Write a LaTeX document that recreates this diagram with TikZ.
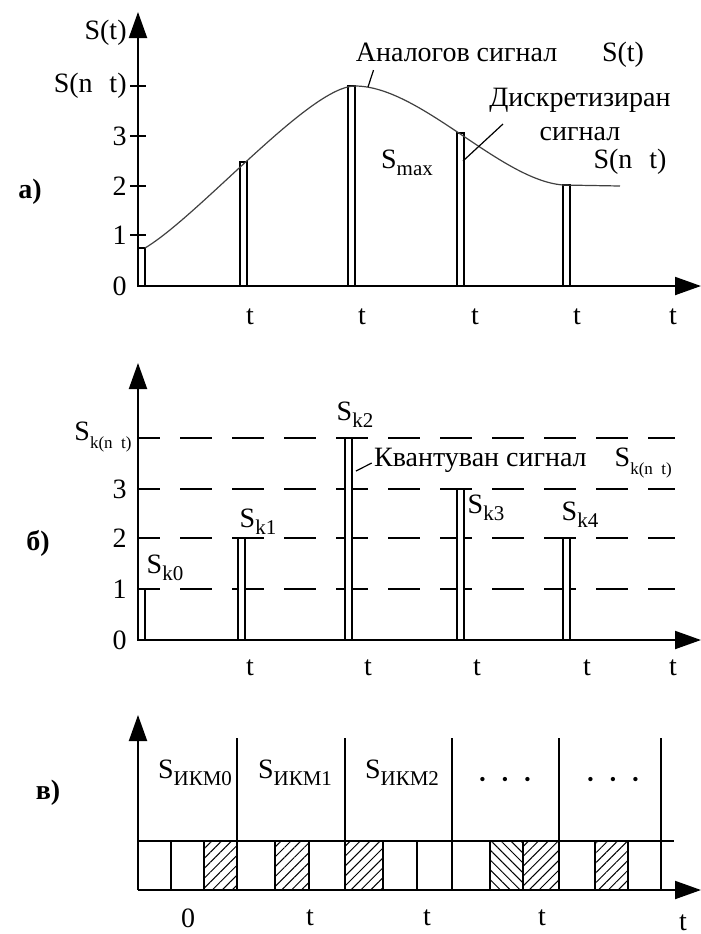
\documentclass[tikz,border=0pt]{standalone}
\usepackage{fontspec}
\setmainfont{Liberation Serif}
\usetikzlibrary{arrows.meta, positioning, patterns.meta}
\newcommand{\lowsub}[1]{\raisebox{-0.55ex}{\fontsize{10.5}{11}\selectfont #1}}
\newcommand{\smallsub}[1]{\raisebox{-0.6ex}{\fontsize{8.5}{9}\selectfont #1}}
\tikzset{
  axis/.style={line width=1pt, -{Triangle[length=13pt, width=9pt]}},
  pulse/.style={draw, line width=0.7pt, fill=white},
  level/.style={line width=0.8pt, dash pattern=on 16pt off 10pt, dash phase=5pt},
  tick/.style={line width=0.9pt},
  lbl/.style={inner sep=1pt, font=\fontsize{14}{17}\selectfont},
  tag/.style={inner sep=1pt, font=\fontsize{14}{17}\selectfont\bfseries},
  curve/.style={line width=0.6pt, black!75},
  leader/.style={line width=0.6pt},
  cell/.style={line width=0.8pt},
  frame/.style={line width=0.8pt},
  hatch/.style={pattern={Lines[angle=45, distance=3.5pt, line width=0.5pt]}},
  backhatch/.style={pattern={Lines[angle=-45, distance=3.5pt, line width=0.5pt]}}
}

\begin{document}
\begin{tikzpicture}[x=0.5pt, y=-0.5pt]
\useasboundingbox (0,0) rectangle (701,934);

% a) analog and sampled signal
\coordinate (oa) at (138,286);
\draw[axis] (oa) -- (138,12);
\draw[axis] (oa) -- (701,286);
\foreach \y in {86,136,186,235} \draw[tick] (130,\y) -- (146,\y);
\node[lbl, anchor=east] (ya-st) at (129,33) {S(t)};
\node[lbl, anchor=east] (ya-snt) at (129,86) {S(n\hspace{0.6em}t)};
\foreach \y/\lab in {136/3, 186/2, 235/1, 286/0}
  \node[lbl, anchor=east] (ya-\lab) at (129,\y) {\lab};
\node[tag] (taga) at (30,192) {а)};

\foreach \x/\h in {138/248, 240/162, 348/86, 457/133, 563/185}
  \draw[pulse] (\x,286) rectangle (\x+7,\h);
\draw[curve] (145,248) .. controls (200,215) and (310,86) .. (355,86)
  .. controls (420,86) and (500,180) .. (563,185) -- (620,186);

\foreach \x in {250,362,475,577,673}
  \node[lbl] (ta-\x) at (\x,317) {t};

\node[lbl] (analog) at (500,55) {Аналогов сигнал\hspace{1.6em}S(t)};
\coordinate (analogpt) at (368,87);
\draw[leader] ([xshift=10pt]analog.south west) -- (analogpt);
\node[lbl, align=center] (diskr) at (580,114) {Дискретизиран\\сигнал};
\coordinate (diskrpt) at (463,161);
\draw[leader] ([xshift=8pt, yshift=-5pt]diskr.west) -- (diskrpt);
\node[lbl] (smax) at (407,163) {S\lowsub{max}};
\node[lbl] (snt) at (630,162) {S(n\hspace{0.6em}t)};

% b) quantized signal
\coordinate (ob) at (138,640);
\foreach \y in {438,489,538,589} \draw[level] (138,\y) -- (675,\y);
\draw[axis] (ob) -- (138,363);
\draw[axis] (ob) -- (701,640);
\node[lbl, anchor=east] (yb-sk) at (134,437) {S\smallsub{k(n\hspace{0.5em}t)}};
\foreach \y/\lab in {489/3, 538/2, 589/1, 640/0}
  \node[lbl, anchor=east] (yb-\lab) at (129,\y) {\lab};
\node[tag] (tagb) at (38,543) {б)};

\foreach \x/\h in {138/589, 238/538, 345/438, 457/489, 563/538}
  \draw[pulse] (\x,640) rectangle (\x+7,\h);
\node[lbl] (sk0) at (165,568) {S\lowsub{k0}};
\node[lbl] (sk1) at (258,522) {S\lowsub{k1}};
\node[lbl] (sk2) at (355,415) {S\lowsub{k2}};
\node[lbl] (sk3) at (486,508) {S\lowsub{k3}};
\node[lbl] (sk4) at (580,515) {S\lowsub{k4}};

\node[lbl] (kvant) at (523,463) {Квантуван сигнал\hspace{1em}S\smallsub{k(n\hspace{0.5em}t)}};
\coordinate (kvantpt) at (356,471);
\draw[leader] (kvant.west) -- (kvantpt);

\foreach \x in {250,368,477,587,673}
  \node[lbl] (tb-\x) at (\x,668) {t};

% c) PCM code words
\coordinate (oc) at (138,890);
\foreach \a/\b in {204/237, 275/309, 345/383, 523/559, 595/628}
  \fill[hatch] (\a,841) rectangle (\b,890);
\fill[backhatch] (490,841) rectangle (523,890);
\draw[axis] (oc) -- (138,715);
\draw[axis] (oc) -- (701,890);
\draw[frame] (138,841) -- (674,841);
\foreach \x in {237,345,452,559,661} \draw[frame] (\x,738) -- (\x,890);
\foreach \x in {171,204,275,309,383,417,490,523,595,628} \draw[cell] (\x,841) -- (\x,890);
\node[tag] (tagc) at (48,793) {в)};

\node[lbl] (pcm0) at (195,773) {S\lowsub{ИКМ0}};
\node[lbl] (pcm1) at (295,773) {S\lowsub{ИКМ1}};
\node[lbl] (pcm2) at (402,773) {S\lowsub{ИКМ2}};
\node[lbl] (dots1) at (505,781) {\fontsize{9}{9}\selectfont\textbullet\hspace{0.9em}\textbullet\hspace{0.9em}\textbullet};
\node[lbl] (dots2) at (613,781) {\fontsize{9}{9}\selectfont\textbullet\hspace{0.9em}\textbullet\hspace{0.9em}\textbullet};

\node[lbl] (tc-0) at (188,918) {0};
\foreach \x in {310,427,542}
  \node[lbl] (tc-\x) at (\x,918) {t};
\node[lbl] (tc-end) at (683,923) {t};

\end{tikzpicture}
\end{document}
